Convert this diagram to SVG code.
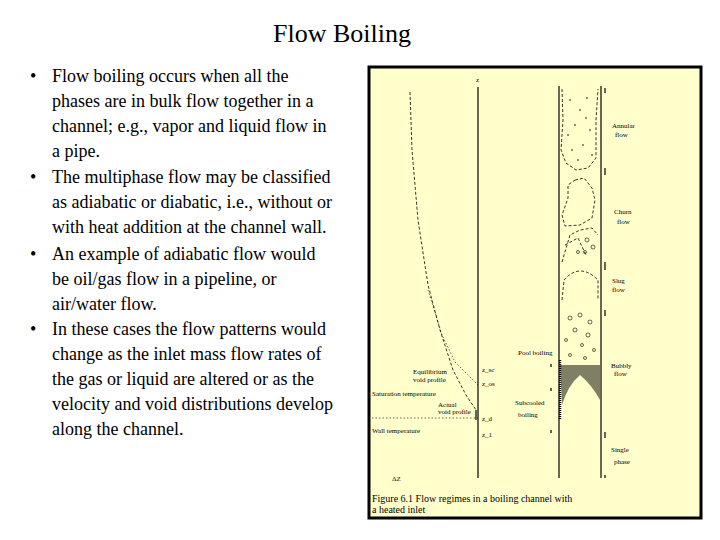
<svg xmlns="http://www.w3.org/2000/svg" width="720" height="540" viewBox="0 0 720 540">
<style>
.t{font-family:"Liberation Serif",serif;font-size:18px;fill:#000}
.s{font-family:"Liberation Serif",serif;font-size:7px;fill:#000}
.c{font-family:"Liberation Serif",serif;font-size:10px;fill:#000}
.ln{stroke:#000;stroke-width:1.2;fill:none}
.d{stroke:#000;stroke-width:0.8;fill:none;stroke-dasharray:3 2}
.o{stroke:#000;stroke-width:0.6;fill:none}
</style>
<rect width="720" height="540" fill="#fff"/>
<text x="342" y="42" text-anchor="middle" font-family="Liberation Serif,serif" font-size="26">Flow Boiling</text>
<g class="t">
<text x="30" y="82">•</text><text x="52" y="82">Flow boiling occurs when all the</text>
<text x="52" y="107">phases are in bulk flow together in a</text>
<text x="52" y="132">channel; e.g., vapor and liquid flow in</text>
<text x="52" y="157">a pipe.</text>
<text x="30" y="183">•</text><text x="52" y="183">The multiphase flow may be classified</text>
<text x="52" y="208">as adiabatic or diabatic, i.e., without or</text>
<text x="52" y="233">with heat addition at the channel wall.</text>
<text x="30" y="260">•</text><text x="52" y="260">An example of adiabatic flow would</text>
<text x="52" y="285">be oil/gas flow in a pipeline, or</text>
<text x="52" y="310">air/water flow.</text>
<text x="30" y="335">•</text><text x="52" y="335">In these cases the flow patterns would</text>
<text x="52" y="360">change as the inlet mass flow rates of</text>
<text x="52" y="385">the gas or liquid are altered or as the</text>
<text x="52" y="410">velocity and void distributions develop</text>
<text x="52" y="435">along the channel.</text>
</g>
<g id="figure">
<rect x="369" y="67" width="332" height="451" fill="#ffffcc" stroke="#000" stroke-width="3"/>
<line class="ln" x1="478" y1="87" x2="478" y2="478"/>
<text class="s" x="476" y="82">z</text>
<line class="ln" x1="559" y1="86" x2="559" y2="478"/>
<line class="ln" x1="601" y1="86" x2="601" y2="478"/>
<path class="d" d="M410 92 L412 150 L418 220 L428 285 L440 330 L453 370 L466 395 L476 410"/>
<path class="o" stroke-dasharray="1.5 2" d="M428 290 L442 335 L455 362 L478 385"/>
<line class="o" stroke-dasharray="1.5 2" x1="372" y1="418" x2="478" y2="418"/>
<line class="ln" x1="476" y1="410" x2="476" y2="420"/>
<!-- tube contents -->
<path class="d" d="M562 89 L563 120 L561 150 L566 163 L576 170 L588 168 L596 158 L596 120 L598 89"/>
<path class="d" d="M575 180 L584 178 L592 188 L595 200 L592 218 L580 225 L565 226 L562 215 L568 198 L568 185 Z"/>
<path class="d" d="M562 262 L570 235 L580 230 L592 228 L598 235"/>
<path class="d" d="M562 300 L564 280 Q580 262 598 280 L598 300"/>
<path class="d" d="M565 245 L578 238 L586 255"/>
<g fill="#000">
<circle cx="570" cy="100" r="0.8"/><circle cx="580" cy="110" r="0.8"/><circle cx="587" cy="98" r="0.8"/><circle cx="575" cy="125" r="0.8"/><circle cx="590" cy="130" r="0.8"/><circle cx="572" cy="150" r="0.8"/><circle cx="583" cy="145" r="0.8"/><circle cx="592" cy="155" r="0.8"/><circle cx="578" cy="160" r="0.8"/><circle cx="568" cy="135" r="0.8"/><circle cx="586" cy="118" r="0.8"/>
</g>
<g class="o">
<circle cx="587" cy="240" r="2"/><circle cx="593" cy="247" r="2"/><circle cx="585" cy="252" r="1.5"/><circle cx="578" cy="252" r="1.5"/>
<circle cx="570" cy="318" r="2"/><circle cx="580" cy="315" r="2"/><circle cx="590" cy="322" r="2"/><circle cx="575" cy="330" r="2"/><circle cx="588" cy="335" r="2"/><circle cx="566" cy="340" r="1.5"/><circle cx="582" cy="345" r="1.5"/><circle cx="594" cy="350" r="1.5"/><circle cx="570" cy="355" r="1.5"/><circle cx="585" cy="358" r="1.5"/>
</g>
<path d="M560 365 L600 365 L600 400 Q592 385 580 375 Q568 385 562 405 Z" fill="#000" opacity="0.5"/>
<line x1="560" y1="360" x2="560" y2="420" stroke="#000" stroke-width="2.5" stroke-dasharray="1 1"/>
<g class="ln"><line x1="605" y1="88" x2="605" y2="93"/><line x1="605" y1="168" x2="605" y2="175"/><line x1="605" y1="262" x2="605" y2="270"/><line x1="605" y1="310" x2="605" y2="316"/><line x1="605" y1="432" x2="605" y2="438"/><line x1="605" y1="475" x2="605" y2="478"/>
<line x1="551" y1="364" x2="551" y2="367"/><line x1="551" y1="388" x2="551" y2="391"/><line x1="551" y1="430" x2="551" y2="433"/></g>
<g class="s">
<text x="612" y="128">Annular</text><text x="615" y="137">flow</text>
<text x="614" y="214">Churn</text><text x="617" y="224">flow</text>
<text x="612" y="283">Slug</text><text x="612" y="292">flow</text>
<text x="611" y="368">Bubbly</text><text x="614" y="376">flow</text>
<text x="611" y="452">Single</text><text x="614" y="464">phase</text>
<text x="518" y="355">Pool boiling</text>
<text x="515" y="405">Subcooled</text><text x="518" y="417">boiling</text>
<text x="482" y="372">z_sc</text><text x="482" y="386">z_os</text><text x="482" y="421">z_d</text><text x="482" y="437">z_1</text>
<text x="413" y="374">Equilibrium</text><text x="413" y="382">void profile</text>
<text x="372" y="396">Saturation temperature</text>
<text x="438" y="407">Actual</text><text x="438" y="414">void profile</text>
<text x="372" y="433">Wall temperature</text>
<text x="392" y="481">ΔZ</text>
</g>
<text class="c" x="372" y="502">Figure 6.1    Flow regimes in a boiling channel with</text>
<text class="c" x="372" y="513">a heated inlet</text>
</g>
</svg>
